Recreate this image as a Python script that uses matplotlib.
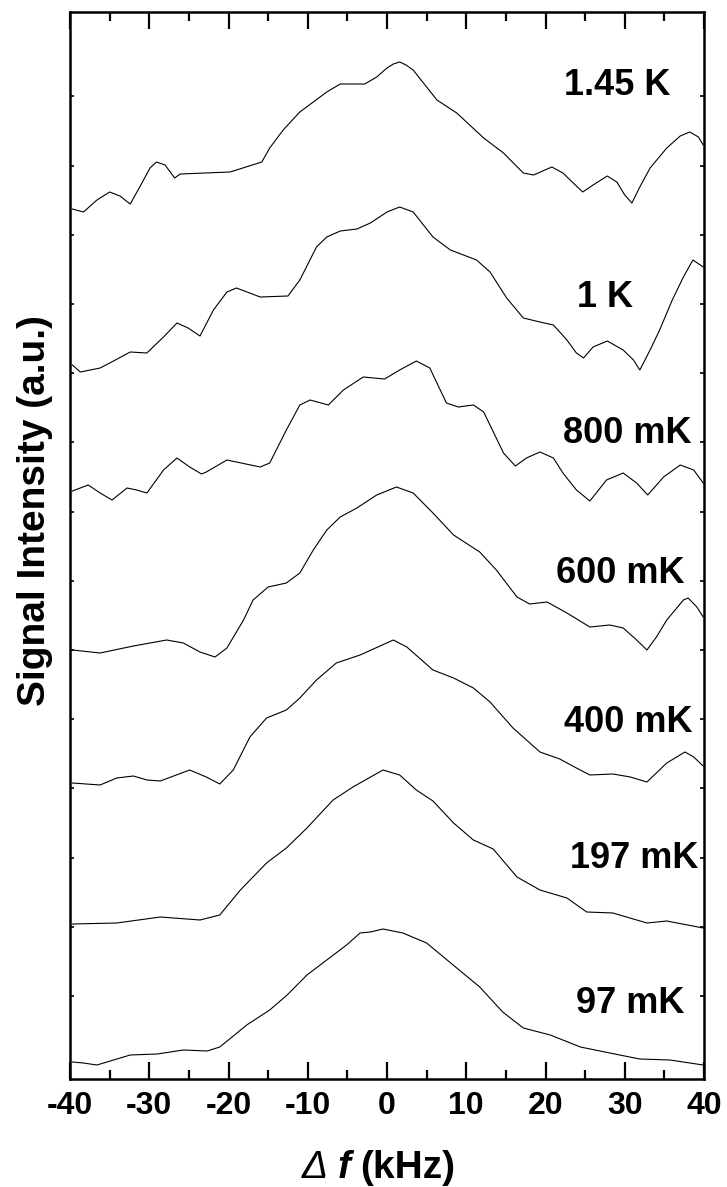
import numpy as np
import matplotlib
matplotlib.use('Agg')
import matplotlib.pyplot as plt
from matplotlib.ticker import MultipleLocator

plt.rcParams['font.family'] = ['Liberation Sans', 'DejaVu Sans']
plt.rcParams['axes.unicode_minus'] = False

#   temperature labels, top to bottom
labels = ['1.45 K', '1 K', '800 mK', '600 mK', '400 mK', '197 mK', '97 mK']

#   spectra (stacked, a.u.)
f_145K = [-39.7, -38.3, -36.6, -35.0, -33.7, -32.4, -31.2, -29.9, -29.1, -28.0, -26.8, -26.1, -19.8, -15.8,
          -14.8, -13.1, -11.0, -7.6, -5.9, -2.8, -1.3, 0.0, 0.8, 1.6, 2.4, 3.3, 6.3, 8.8, 12.2, 14.7,
          17.2, 18.5, 20.8, 22.2, 23.5, 24.7, 26.0, 27.8, 29.0, 30.0, 30.9, 31.9, 33.2, 35.3, 37.0,
          38.2, 39.3, 39.9]
s_145K = [870, 867, 879, 887, 883, 875, 892, 911, 917, 914, 901, 905, 907, 917,
          931, 949, 967, 987, 995, 995, 1002, 1011, 1015, 1017, 1014, 1009, 979, 966, 941, 926,
          906, 904, 912, 906, 896, 887, 894, 903, 897, 884, 876, 892, 911, 931, 943,
          947, 942, 934]

f_1K = [-39.7, -38.7, -36.2, -34.5, -32.4, -30.3, -28.2, -26.5, -25.1, -23.6, -21.9, -20.2, -19.0, -16.0,
        -12.5, -11.0, -8.9, -7.6, -5.9, -3.8, -2.1, 0.0, 1.6, 3.3, 5.8, 8.0, 11.3, 13.0, 15.1, 17.2,
        19.3, 21.0, 22.7, 23.9, 24.8, 26.0, 27.8, 29.8, 31.1, 31.9, 33.2, 34.4, 36.0, 37.4, 38.6, 39.9]
s_1K = [714, 707, 711, 718, 727, 726, 742, 756, 751, 743, 769, 787, 791, 782,
        783, 799, 832, 842, 848, 850, 856, 867, 872, 867, 842, 829, 819, 807, 781, 761,
        757, 754, 739, 726, 721, 732, 738, 729, 719, 709, 729, 749, 779, 802, 819, 812]

f_800mK = [-39.7, -37.7, -36.2, -34.7, -32.8, -31.6, -30.3, -28.2, -26.5, -24.9, -23.4, -22.8, -20.2, -16.0,
           -14.8, -12.7, -11.0, -9.7, -7.4, -5.5, -3.0, -0.3, 1.6, 3.7, 5.4, 7.5, 9.0, 10.9, 12.2, 14.7,
           16.2, 17.6, 19.3, 21.0, 22.2, 23.9, 25.6, 27.7, 29.8, 31.5, 32.9, 34.9, 37.0, 38.7, 39.9]
s_800mK = [588, 594, 586, 579, 591, 589, 586, 609, 621, 612, 605, 607, 619, 612,
           616, 649, 674, 679, 674, 689, 702, 700, 709, 718, 711, 676, 672, 674, 667, 626,
           613, 621, 627, 621, 606, 589, 578, 599, 606, 596, 584, 602, 614, 609, 596]

f_600mK = [-39.7, -36.2, -32.0, -27.8, -25.7, -23.6, -21.7, -20.2, -18.1, -16.9, -15.0, -12.7, -11.0, -9.3,
           -7.6, -5.9, -3.8, -1.3, 1.2, 3.3, 5.8, 8.4, 11.7, 13.8, 16.4, 18.0, 20.2, 22.7, 25.6, 28.1,
           29.8, 31.5, 32.8, 34.0, 35.3, 37.4, 38.0, 39.1, 39.9]
s_600mK = [429, 426, 433, 439, 436, 427, 422, 431, 459, 479, 492, 496, 506, 529,
           549, 562, 571, 584, 592, 586, 566, 544, 527, 509, 482, 475, 477, 466, 452, 454,
           451, 439, 429, 442, 459, 479, 481, 472, 462]

f_400mK = [-39.7, -36.2, -34.1, -32.0, -30.3, -28.6, -24.9, -22.8, -21.1, -19.4, -17.3, -15.2, -12.7, -11.0,
           -8.9, -6.4, -3.4, 0.8, 2.5, 5.8, 8.4, 10.9, 13.0, 15.9, 19.3, 21.8, 23.9, 25.6, 28.5, 30.7,
           32.8, 35.3, 37.6, 38.7, 39.9]
s_400mK = [296, 294, 301, 303, 299, 298, 309, 302, 295, 309, 342, 361, 369, 381,
           399, 416, 424, 439, 432, 409, 401, 391, 377, 351, 327, 320, 311, 304, 305, 302,
           297, 316, 327, 322, 313]

f_197mK = [-39.7, -34.1, -28.6, -23.6, -21.1, -18.5, -15.2, -12.7, -10.1, -6.8, -4.3, -0.5, 1.6,
           3.7, 5.8, 8.4, 10.9, 13.4, 16.4, 19.3, 22.7, 25.2, 28.5, 32.8, 35.3, 39.9]
s_197mK = [155, 156, 162, 159, 164, 189, 216, 231, 251, 279, 292, 309, 304,
           289, 278, 256, 239, 230, 202, 189, 181, 167, 166, 156, 158, 151]

f_97mK = [-39.7, -38.3, -36.6, -34.5, -32.4, -29, -25.7, -22.7, -21.1, -17.7, -14.8, -12.6, -10.1, -7.6,
          -5.1, -3.4, -2.1, -0.5, 2.0, 5.0, 8.8, 11.7, 14.6, 17.2, 20.6, 24.4, 28.1, 31.9, 35.7, 39.9]
s_97mK = [17, 16, 14, 19, 24, 25, 29, 28, 32, 54, 69, 84, 104, 119,
          134, 146, 147, 150, 146, 136, 111, 92, 67, 51, 44, 32, 26, 20, 19, 14]

#   label positions (kHz, a.u.)
label_x = [29.1, 27.5, 30.3, 29.4, 30.4, 31.2, 30.7]
label_y = [984, 772, 636, 496, 347, 211, 66]

fig = plt.figure(figsize=(7.27, 11.87), dpi=100)
ax = fig.add_axes([70 / 727, 1 - 1079 / 1187, 634 / 727, 1067 / 1187])

spectra = [(f_145K, s_145K), (f_1K, s_1K), (f_800mK, s_800mK), (f_600mK, s_600mK),
           (f_400mK, s_400mK), (f_197mK, s_197mK), (f_97mK, s_97mK)]
for f, s in spectra:
	ax.plot(f, s, color='k', lw=0.8, solid_joinstyle='round')

for i in range(0, len(labels)):
	ax.text(label_x[i], label_y[i], labels[i], ha='center', va='baseline',
	        fontsize=26, fontweight='bold')

ax.set_xlim(-40, 40)
ax.set_ylim(0, 1067)
ax.set_xticks([-40, -30, -20, -10, 0, 10, 20, 30, 40])
ax.xaxis.set_minor_locator(MultipleLocator(5))
ax.set_yticks(83 + 69.2 * np.arange(14))
ax.set_yticklabels([])
ax.tick_params(axis='x', which='major', direction='in', length=12, width=1.6,
               top=True, labelsize=23, pad=9)
ax.tick_params(axis='x', which='minor', direction='in', length=6.5, width=1.6, top=True)
ax.tick_params(axis='y', which='major', direction='in', length=3, width=1.2, right=True)
for lab in ax.get_xticklabels():
	lab.set_fontweight('bold')
for sp in ax.spines.values():
	sp.set_linewidth(1.8)

fig.text(35 / 727, 1 - 511 / 1187, 'Signal Intensity (a.u.)', rotation=90,
         ha='center', va='center', fontsize=28, fontweight='bold')

#   x label: italic delta, bold italic f, bold unit
base = 1 - 1178 / 1187
fig.text(315 / 727, base, '\u0394', ha='center', va='baseline', fontsize=28, fontstyle='italic')
fig.text(344.5 / 727, base, 'f', ha='center', va='baseline', fontsize=28,
         fontstyle='italic', fontweight='bold')
fig.text(407.5 / 727, base, '(kHz)', ha='center', va='baseline', fontsize=28, fontweight='bold')

fig.savefig('out.png', dpi=100)
